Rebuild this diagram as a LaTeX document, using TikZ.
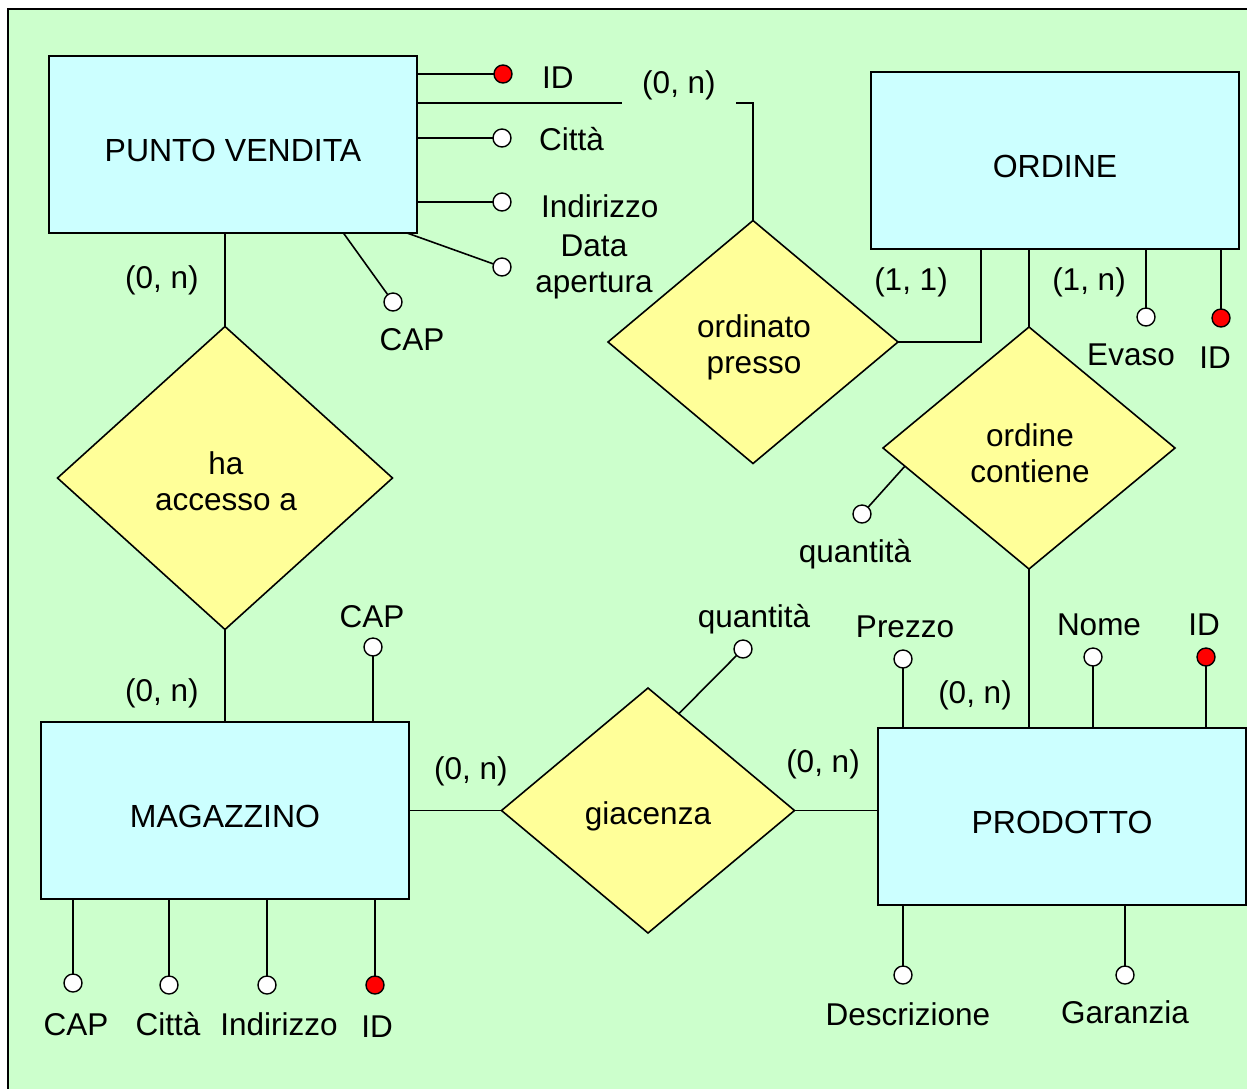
\documentclass[tikz,border=0pt]{standalone}
\usepackage{fontspec}
\setmainfont{Liberation Sans}
\usetikzlibrary{shapes.geometric,calc}
\definecolor{bg}{HTML}{CCFFCC}
\definecolor{entfill}{HTML}{CCFFFF}
\definecolor{relfill}{HTML}{FFFF99}
\begin{document}
\begin{tikzpicture}[x=1pt,y=-1pt,
  every node/.style={font=\fontsize{31.5}{36}\selectfont},
  entity/.style={draw, fill=entfill, line width=1.8pt, minimum width=368pt,
    minimum height=177pt, inner sep=0pt, outer sep=0pt,
    font=\fontsize{32}{36}\selectfont, text height=33pt, text depth=0pt},
  relship/.style={draw, fill=relfill, diamond, line width=1.6pt, inner sep=0pt,
    outer sep=0pt},
  reltext/.style={inner sep=0pt, align=center},
  attr/.style={draw, fill=white, circle, line width=1.4pt, minimum size=18pt,
    inner sep=0pt, outer sep=0pt},
  keyattr/.style={attr, fill=red},
  lbl/.style={inner sep=0pt, text height=22pt, text depth=6pt},
  conn/.style={line width=1.6pt}
]
\useasboundingbox (0,0) rectangle (1247,1088);
% page frame
\draw[fill=bg, line width=2pt] (8,9) rectangle (1270,1110);

% entities
\node[entity] (PV)   at (233,144.5) {PUNTO VENDITA};
\node[entity] (ORD)  at (1055,160.5) {ORDINE};
\node[entity] (MAG)  at (225,810.5) {MAGAZZINO};
\node[entity] (PROD) at (1062,816.5) {PRODOTTO};

% relationships
\node[relship, minimum width=335pt, minimum height=303pt] (HA) at (225,478) {};
\node[relship, minimum width=290pt, minimum height=243pt] (OP) at (753,342) {};
\node[relship, minimum width=292pt, minimum height=242pt] (OC) at (1029,448) {};
\node[relship, minimum width=293pt, minimum height=245pt] (GI) at (648,810.5) {};
\node[reltext] (HAtext) at (226,481) {ha\\accesso a};
\node[reltext] (OPtext) at (754,347) {ordinato\\presso};
\node[reltext] (OCtext) at (1030,453) {ordine\\contiene};
\node[reltext] (GItext) at (648,816) {giacenza};

% relationship connectors
\draw[conn] (HA.north |- PV.south) -- (HA.north);
\draw[conn] (HA.south) -- (HA.south |- MAG.north);
\coordinate (pvop) at ($(PV.north east)+(0,47)$);
\draw[conn] (pvop) -| (OP.north);
\coordinate (ordop) at ($(ORD.south west)+(110,0)$);
\draw[conn] (ordop) |- (OP.east);
\draw[conn] (OC.north |- ORD.south) -- (OC.north);
\draw[conn] (OC.south) -- (OC.south |- PROD.north);
\draw[conn] (MAG.east |- GI.west) -- (GI.west);
\draw[conn] (GI.east) -- (GI.east -| PROD.west);

% attributes of PUNTO VENDITA
\node[keyattr] (aPVid)   at (503,74) {};
\node[attr]    (aPVcity) at (502,138) {};
\node[attr]    (aPVaddr) at (502,202) {};
\node[attr]    (aPVdate) at (502,267) {};
\node[attr]    (aPVcap)  at (393,302) {};
\draw[conn] (PV.east |- aPVid) -- (aPVid);
\draw[conn] (PV.east |- aPVcity) -- (aPVcity);
\draw[conn] (PV.east |- aPVaddr) -- (aPVaddr);
\draw[conn] ($(PV.south west)!0.973!(PV.south east)$) -- (aPVdate);
\draw[conn] ($(PV.south west)!0.8!(PV.south east)$) -- (aPVcap);
\node[lbl, anchor=west] (tPVid)   at (542,80) {ID};
\node[lbl, anchor=west] (tPVcity) at (539,142) {Città};
\node[lbl, anchor=west] (tPVaddr) at (541,209) {Indirizzo};
\node[inner sep=0pt, align=center] (tPVdate) at (594,267) {Data\\apertura};
\node[lbl] (tPVcap) at (412,342) {CAP};

% attributes of ORDINE
\node[attr]    (aOev) at (1146,317) {};
\node[keyattr] (aOid) at (1221,318) {};
\draw[conn] (aOev |- ORD.south) -- (aOev);
\draw[conn] (aOid |- ORD.south) -- (aOid);
\node[lbl] (tOev) at (1131,357) {Evaso};
\node[lbl] (tOid) at (1215,360) {ID};

% attribute of ordine contiene
\node[attr] (aOCq) at (862,514) {};
\draw[conn] ($(OC.west)!0.15!(OC.south)$) -- (aOCq);
\node[lbl] (tOCq) at (855,554) {quantità};

% attributes of MAGAZZINO
\node[attr]    (aMcapTop) at (373,647) {};
\node[attr]    (aMcap)    at (73,983) {};
\node[attr]    (aMcity)   at (169,985) {};
\node[attr]    (aMaddr)   at (267,985) {};
\node[keyattr] (aMid)     at (375,985) {};
\draw[conn] (aMcapTop |- MAG.north) -- (aMcapTop);
\draw[conn] (aMcap |- MAG.south) -- (aMcap);
\draw[conn] (aMcity |- MAG.south) -- (aMcity);
\draw[conn] (aMaddr |- MAG.south) -- (aMaddr);
\draw[conn] (aMid |- MAG.south) -- (aMid);
\node[lbl] (tMcapTop) at (372,619) {CAP};
\node[lbl] (tMcap)    at (76,1027) {CAP};
\node[lbl] (tMcity)   at (168,1027) {Città};
\node[lbl] (tMaddr)   at (279,1027) {Indirizzo};
\node[lbl] (tMid)     at (377,1029) {ID};

% attribute of giacenza
\node[attr] (aGq) at (743,649) {};
\draw[conn] ($(GI.north)!0.21!(GI.east)$) -- (aGq);
\node[lbl] (tGq) at (754,619) {quantità};

% attributes of PRODOTTO
\node[attr]    (aPpr)   at (903,659) {};
\node[attr]    (aPnome) at (1093,657) {};
\node[keyattr] (aPid)   at (1206,657) {};
\node[attr]    (aPdesc) at (903,975) {};
\node[attr]    (aPgar)  at (1125,975) {};
\draw[conn] (aPpr |- PROD.north) -- (aPpr);
\draw[conn] (aPnome |- PROD.north) -- (aPnome);
\draw[conn] (aPid |- PROD.north) -- (aPid);
\draw[conn] (aPdesc |- PROD.south) -- (aPdesc);
\draw[conn] (aPgar |- PROD.south) -- (aPgar);
\node[lbl] (tPpr)   at (905,629) {Prezzo};
\node[lbl] (tPnome) at (1099,627) {Nome};
\node[lbl] (tPid)   at (1204,627) {ID};
\node[lbl] (tPdesc) at (908,1017) {Descrizione};
\node[lbl] (tPgar)  at (1125,1015) {Garanzia};

% cardinalities
\node[lbl, fill=bg, minimum width=114pt, minimum height=44pt] (cPVOP) at (679,85) {(0, n)};
\node[lbl] (cPVHA)  at (162,280) {(0, n)};
\node[lbl] (cORDOP) at (911,282) {(1, 1)};
\node[lbl] (cORDOC) at (1089,282) {(1, n)};
\node[lbl] (cPROC)  at (975,695) {(0, n)};
\node[lbl] (cMAGHA) at (162,693) {(0, n)};
\node[lbl] (cMAGGI) at (471,771) {(0, n)};
\node[lbl] (cPRGI)  at (823,764) {(0, n)};
\end{tikzpicture}
\end{document}
